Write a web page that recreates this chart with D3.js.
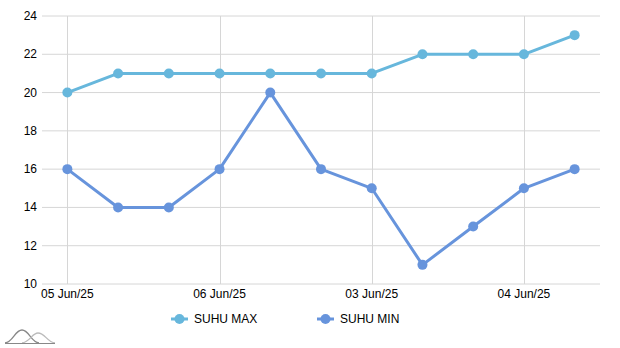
<!DOCTYPE html>
<html>
<head>
<meta charset="utf-8">
<script src="https://cdn.jsdelivr.net/npm/d3@7"></script>
<style>
  body { margin: 0; background: #fff; }
  svg text { font-family: "Liberation Sans", Arial, Helvetica, sans-serif; fill: #000; }
</style>
</head>
<body>
<div id="chart"></div>
<script>
// data
let categories = ["05 Jun/25", "p1", "p2", "06 Jun/25", "p4", "p5", "03 Jun/25", "p7", "p8", "04 Jun/25", "p10"];
let tickLabels = ["05 Jun/25", "06 Jun/25", "03 Jun/25", "04 Jun/25"];
let suhuMax = [20, 21, 21, 21, 21, 21, 21, 22, 22, 22, 23];
let suhuMin = [16, 14, 14, 16, 20, 16, 15, 11, 13, 15, 16];
let yTicks = [10, 12, 14, 16, 18, 20, 22, 24];

let series = [
  { name: "SUHU MAX", values: suhuMax, color: "#67b7dc" },
  { name: "SUHU MIN", values: suhuMin, color: "#6794dc" }
];

let svgWidth = 620, svgHeight = 348;
let margin = { top: 16, right: 20, bottom: 64, left: 42 };

let svg = d3.select("#chart").append("svg")
  .attr("width", svgWidth)
  .attr("height", svgHeight);

let x = d3.scalePoint()
  .domain(categories)
  .range([margin.left, svgWidth - margin.right])
  .padding(0.5);

let y = d3.scaleLinear()
  .domain([10, 24])
  .range([svgHeight - margin.bottom, margin.top]);

// horizontal grid
svg.append("g")
  .selectAll("line")
  .data(yTicks)
  .enter().append("line")
    .attr("x1", margin.left)
    .attr("x2", svgWidth - margin.right)
    .attr("y1", d => y(d))
    .attr("y2", d => y(d))
    .attr("stroke", "#d6d6d6")
    .attr("stroke-width", 1);

// vertical grid on labelled categories
svg.append("g")
  .selectAll("line")
  .data(tickLabels)
  .enter().append("line")
    .attr("x1", d => Math.round(x(d)) + 0.5)
    .attr("x2", d => Math.round(x(d)) + 0.5)
    .attr("y1", margin.top)
    .attr("y2", svgHeight - margin.bottom)
    .attr("stroke", "#d6d6d6")
    .attr("stroke-width", 1);

// y labels
svg.append("g")
  .selectAll("text")
  .data(yTicks)
  .enter().append("text")
    .attr("x", margin.left - 5)
    .attr("y", d => y(d) + 4)
    .attr("text-anchor", "end")
    .attr("font-size", "12px")
    .text(d => d);

// x labels
svg.append("g")
  .selectAll("text")
  .data(tickLabels)
  .enter().append("text")
    .attr("x", d => x(d))
    .attr("y", svgHeight - margin.bottom + 14)
    .attr("text-anchor", "middle")
    .attr("font-size", "12px")
    .text(d => d);

let line = d3.line()
  .x((d, i) => x(categories[i]))
  .y(d => y(d));

series.forEach(function(s) {
  let g = svg.append("g");
  g.append("path")
    .attr("d", line(s.values))
    .attr("fill", "none")
    .attr("stroke", s.color)
    .attr("stroke-width", 3)
    .attr("stroke-linejoin", "round");
  g.selectAll("circle")
    .data(s.values)
    .enter().append("circle")
      .attr("cx", (d, i) => x(categories[i]))
      .attr("cy", d => y(d))
      .attr("r", 5)
      .attr("fill", s.color);
});

// legend
let legendX = [171, 317];
let legend = svg.append("g")
  .selectAll("g")
  .data(series)
  .enter().append("g")
    .attr("transform", (d, i) => `translate(${legendX[i]},319)`);
legend.append("line")
  .attr("x1", 0).attr("x2", 17)
  .attr("y1", 0).attr("y2", 0)
  .attr("stroke", d => d.color)
  .attr("stroke-width", 3);
legend.append("circle")
  .attr("cx", 8.5).attr("cy", 0).attr("r", 5)
  .attr("fill", d => d.color);
legend.append("text")
  .attr("x", 23).attr("y", 4)
  .attr("font-size", "12px")
  .text(d => d.name);

// small logo
let logo = svg.append("g").attr("transform", "translate(5,328)");
logo.append("path")
  .attr("d", "M0,15 C8,14 10,2 17,2 C24,2 26,14 34,15")
  .attr("fill", "none").attr("stroke", "#888").attr("stroke-width", 1.3);
logo.append("path")
  .attr("d", "M17,15 C25,14 27,5 33,5 C40,5 42,14 50,15")
  .attr("fill", "none").attr("stroke", "#bbb").attr("stroke-width", 1.3);
logo.append("line")
  .attr("x1", 0).attr("x2", 50).attr("y1", 15.5).attr("y2", 15.5)
  .attr("stroke", "#888").attr("stroke-width", 1.2);
</script>
</body>
</html>
